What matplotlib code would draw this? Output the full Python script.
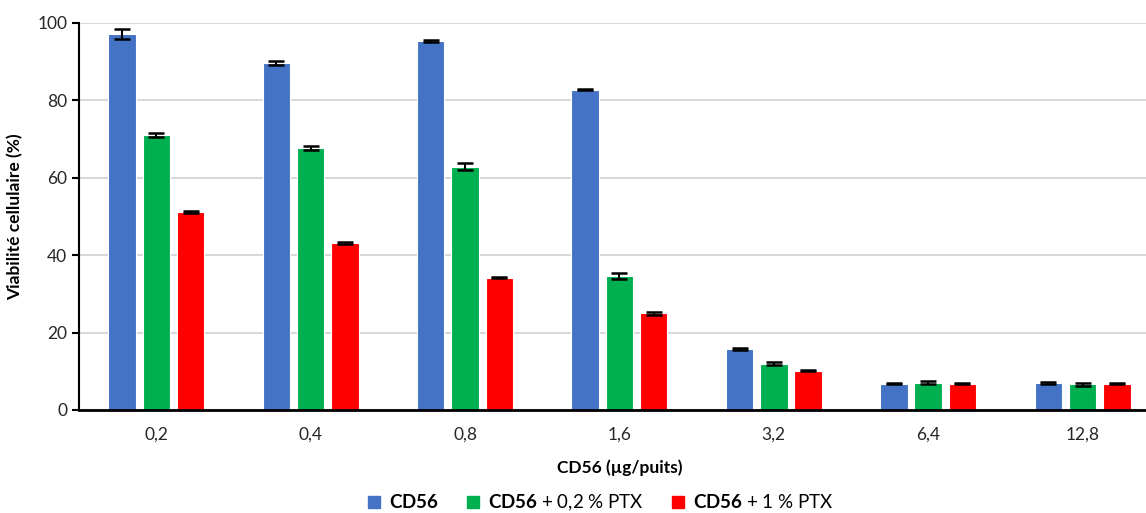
import numpy as np
import matplotlib.pyplot as plt

plt.rcParams['font.family'] = ['Lato', 'DejaVu Sans']
plt.rcParams['mathtext.fontset'] = 'custom'
plt.rcParams['mathtext.bf'] = 'Lato:bold'
plt.rcParams['mathtext.rm'] = 'Lato'

#===== data =====#
doses = ["0,2", "0,4", "0,8", "1,6", "3,2", "6,4", "12,8"]
cd56 = [97.1, 89.7, 95.4, 82.8, 15.8, 6.8, 7.0]
cd56_err = [1.25, 0.6, 0.3, 0.2, 0.2, 0.15, 0.2]
ptx02 = [71.1, 67.7, 62.8, 34.6, 12.0, 7.1, 6.6]
ptx02_err = [0.6, 0.5, 0.9, 0.8, 0.3, 0.3, 0.3]
ptx1 = [51.1, 43.1, 34.2, 25.0, 10.2, 6.8, 6.8]
ptx1_err = [0.3, 0.3, 0.15, 0.4, 0.2, 0.2, 0.2]
labels = [r"$\mathbf{CD56}$", r"$\mathbf{CD56}$ + 0,2 % PTX", r"$\mathbf{CD56}$ + 1 % PTX"]
colors = ["#4472C4", "#00B050", "#FF0000"]
#=====================================#

fig = plt.figure(figsize=(11.46, 5.13), dpi=100)
ax = fig.add_axes([0.069, 0.2008, 0.943, 0.7544])

x = np.arange(len(doses))
step, w = 0.222, 0.178
series = [(cd56, cd56_err), (ptx02, ptx02_err), (ptx1, ptx1_err)]
for k, (vals, errs) in enumerate(series):
    ax.bar(x + (k - 1) * step, vals, w, color=colors[k], edgecolor="white",
           linewidth=0.8, label=labels[k], zorder=2,
           yerr=errs, error_kw=dict(ecolor="black", elinewidth=1.5, capsize=5.5,
                                    capthick=1.8, zorder=3))

ax.set_xlim(-0.5, len(doses) - 0.5)
ax.set_ylim(0, 100)
ax.set_yticks(range(0, 101, 20))
ax.set_xticks(x)
ax.set_xticklabels(doses)
ax.grid(axis="y", color="#d9d9d9", linewidth=1.5, zorder=0)
ax.set_axisbelow(True)
for s in ["top", "right"]:
    ax.spines[s].set_visible(False)
ax.spines["left"].set_linewidth(1.5)
ax.spines["bottom"].set_linewidth(2)
ax.tick_params(axis="x", length=0, pad=12, labelsize=12.5)
ax.tick_params(axis="y", length=5, width=1.5, labelsize=12.5)
for t in ax.get_xticklabels() + ax.get_yticklabels():
    t.set_color("#262626")
ax.set_ylabel("Viabilité cellulaire (%)", fontsize=12.5, fontweight="bold", labelpad=10)
ax.set_xlabel("CD56 (µg/puits)", fontsize=12.5, fontweight="bold", labelpad=12)

handles = [plt.Line2D([], [], marker="s", linestyle="", markersize=8,
                      color=c) for c in colors]
fig.legend(handles, labels, loc="center", bbox_to_anchor=(0.522, 0.02), ncol=3,
           frameon=False, fontsize=13.5, handletextpad=0.2, columnspacing=1.2,
           handlelength=1.2)

fig.savefig("out.png", dpi=100)
